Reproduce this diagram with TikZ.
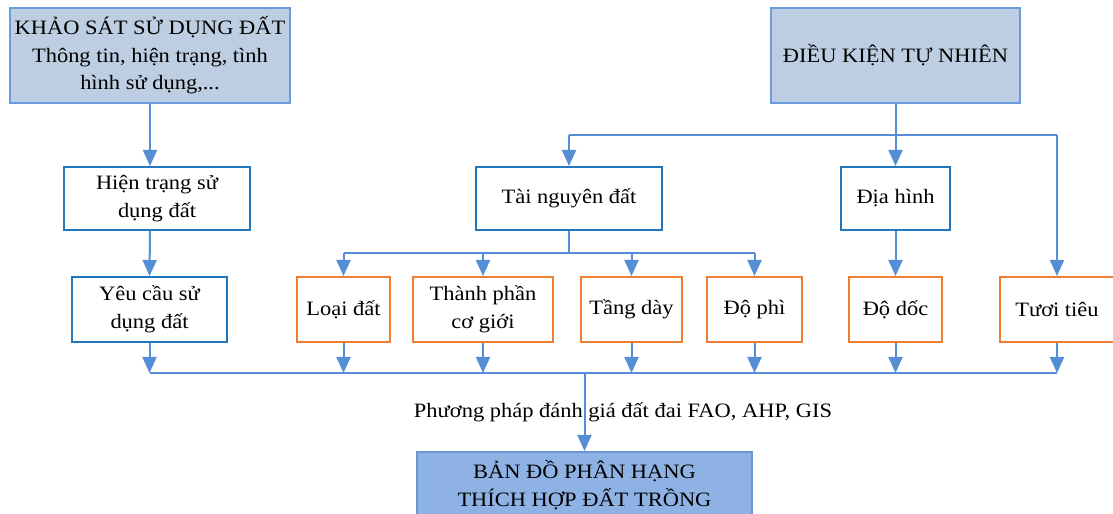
\documentclass[tikz,border=0pt]{standalone}
\usepackage{fontspec}
\setmainfont{Liberation Serif}[FakeStretch=1.1]
\usetikzlibrary{arrows.meta}
\definecolor{conn}{HTML}{558ED5}
\definecolor{greyfill}{HTML}{BDCEE2}
\definecolor{greyline}{HTML}{6A9BDB}
\definecolor{bluebox}{HTML}{1F78C0}
\definecolor{orangebox}{HTML}{ED7D31}
\definecolor{finalfill}{HTML}{8EB2E3}
\definecolor{finalline}{HTML}{6A95CF}
\tikzset{
  base/.style={rectangle, inner sep=0pt, align=center, font=\fontsize{20.5}{27.5}\selectfont, line width=2bp},
  topbox/.style={base, draw=greyline, fill=greyfill},
  bluenode/.style={base, draw=bluebox, minimum height=63bp},
  orangenode/.style={base, draw=orangebox, minimum height=65bp},
  finalbox/.style={base, draw=finalline, fill=finalfill},
  conline/.style={draw=conn, line width=2bp},
  conarrow/.style={conline, -{Triangle[length=16bp,width=14bp]}}
}
\begin{document}
\begin{tikzpicture}[x=1bp,y=-1bp]
\useasboundingbox (0,0) rectangle (1113,514);
% top boxes
\node[topbox, minimum width=280bp, minimum height=95bp] (k) at (150,55.5)
  {KHẢO SÁT SỬ DỤNG ĐẤT\\Thông tin, hiện trạng, tình\\hình sử dụng,...};
\node[topbox, minimum width=249bp, minimum height=95bp] (d) at (895.5,55.5)
  {ĐIỀU KIỆN TỰ NHIÊN};
% blue boxes
\node[bluenode, minimum width=186bp] (ht) at (157,198.5) {Hiện trạng sử\\dụng đất};
\node[bluenode, minimum width=155bp, minimum height=65bp] (yc) at (149.5,309.5) {Yêu cầu sử\\dụng đất};
\node[bluenode, minimum width=186bp] (tn) at (569,198.5) {Tài nguyên đất};
\node[bluenode, minimum width=109bp] (dh) at (895.5,198.5) {Địa hình};
% orange boxes
\node[orangenode, minimum width=93bp] (ld) at (343.5,309.5) {Loại đất};
\node[orangenode, minimum width=140bp] (tp) at (483,309.5) {Thành phần\\cơ giới};
\node[orangenode, minimum width=101bp] (td) at (631.5,309.5) {Tầng dày};
\node[orangenode, minimum width=95bp] (dp) at (754.5,309.5) {Độ phì};
\node[orangenode, minimum width=93bp] (dd) at (895.5,309.5) {Độ dốc};
\node[orangenode, minimum width=114bp] (tt) at (1057,309.5) {Tươi tiêu};
% final box
\node[finalbox, minimum width=335bp, minimum height=66bp] (fb) at (584.5,485)
  {BẢN ĐỒ PHÂN HẠNG\\THÍCH HỢP ĐẤT TRỒNG};
% junction coordinates
\coordinate (b1) at (895.5,135);
\coordinate (b2) at (569,253);
\coordinate (b3) at (584.5,373);
% left column
\draw[conarrow] (k.south) -- (k.south |- ht.north);
\draw[conarrow] (k.south |- ht.south) -- (yc.north);
% natural conditions branch
\draw[conline] (d.south) -- (b1);
\draw[conline] (tn.north |- b1) -- (tt.north |- b1);
\draw[conarrow] (tn.north |- b1) -- (tn.north);
\draw[conarrow] (b1) -- (dh.north);
\draw[conarrow] (tt.north |- b1) -- (tt.north);
% soil resources branch
\draw[conline] (tn.south) -- (b2);
\draw[conline] (ld.north |- b2) -- (dp.north |- b2);
\draw[conarrow] (ld.north |- b2) -- (ld.north);
\draw[conarrow] (tp.north |- b2) -- (tp.north);
\draw[conarrow] (td.north |- b2) -- (td.north);
\draw[conarrow] (dp.north |- b2) -- (dp.north);
\draw[conarrow] (dh.south) -- (dd.north);
% collector
\draw[conline] (yc.south |- b3) -- (tt.south |- b3);
\foreach \n in {yc,ld,tp,td,dp,dd,tt}
  \draw[conarrow] (\n.south) -- (\n.south |- b3);
\draw[conarrow] (b3) -- (fb.north);
\node[font=\fontsize{20.5}{27.5}\selectfont, inner sep=0pt] (lbl) at (623,412)
  {Phương pháp đánh giá đất đai FAO, AHP, GIS};
\end{tikzpicture}
\end{document}
